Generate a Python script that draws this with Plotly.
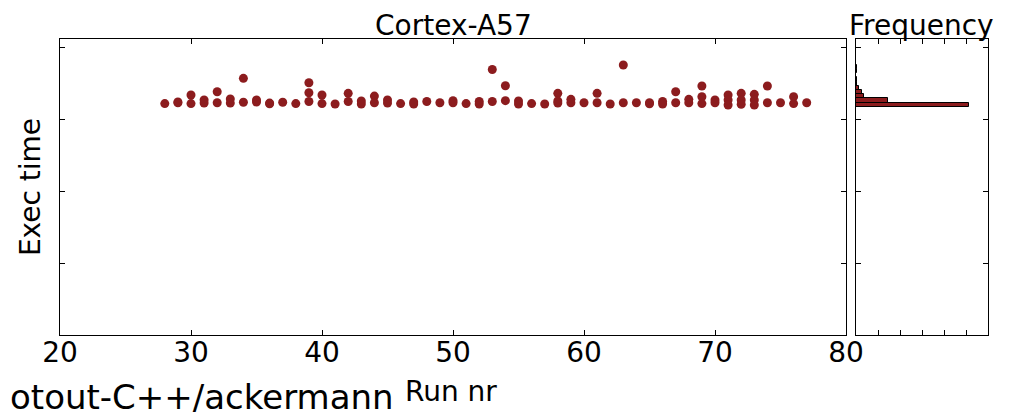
import plotly.graph_objects as go

# ---- data ----
run_nr = [
    28, 29, 29, 30, 30, 31, 31, 32, 32, 33, 33, 34, 34, 35, 35, 36, 36, 37, 38,
    39, 39, 39, 40, 40, 41, 42, 42, 43, 43, 44, 44, 45, 45, 46, 47, 47, 48, 49,
    50, 50, 51, 52, 52, 53, 53, 54, 54, 55, 55, 56, 57, 58, 58, 58, 59, 59, 60,
    61, 61, 62, 63, 63, 64, 65, 65, 66, 66, 67, 67, 68, 68, 69, 69, 69, 70, 70,
    71, 71, 71, 72, 72, 72, 73, 73, 73, 74, 74, 75, 76, 76, 77,
]
exec_time = [
    3.218, 3.240, 3.228, 3.336, 3.218, 3.267, 3.225, 3.382, 3.230, 3.281, 3.225,
    3.567, 3.236, 3.267, 3.240, 3.225, 3.215, 3.236, 3.218,
    3.506, 3.368, 3.247, 3.336, 3.218, 3.212, 3.360, 3.247, 3.253, 3.212,
    3.322, 3.230, 3.267, 3.225, 3.218, 3.240, 3.212, 3.247, 3.230,
    3.258, 3.230, 3.218, 3.247, 3.212, 3.689, 3.247, 3.465, 3.258, 3.253, 3.212,
    3.218, 3.212, 3.360, 3.253, 3.225, 3.277, 3.230, 3.230,
    3.360, 3.230, 3.212, 3.751, 3.230, 3.230, 3.230, 3.215, 3.247, 3.212,
    3.382, 3.230, 3.277, 3.230, 3.461, 3.313, 3.218, 3.267, 3.230,
    3.336, 3.267, 3.199, 3.360, 3.267, 3.208, 3.346, 3.267, 3.199,
    3.461, 3.230, 3.230, 3.313, 3.218, 3.230,
]

# histogram bins (exec time) and their frequencies
bin_centers = [3.2038, 3.2619, 3.3200, 3.3780, 3.4361,
               3.4942, 3.5522, 3.6103, 3.6684, 3.7264]
bin_width = 0.0581
bin_counts = [103, 29, 7, 5, 3, 1, 1, 0, 1, 1]

x_ticks = [20, 30, 40, 50, 60, 70, 80]
y_ticks = [1, 2, 3, 4]
freq_ticks = [20, 40, 60, 80, 100]

RED = "#8c1c1e"
FONT = "DejaVu Sans"

W, H = 1003, 412  # page body has an 8px margin

fig = go.Figure()
fig.add_trace(go.Scatter(
    x=run_nr, y=exec_time, mode="markers",
    marker=dict(color=RED, size=9, line=dict(width=0)),
    xaxis="x", yaxis="y", showlegend=False,
))
fig.add_trace(go.Bar(
    x=bin_counts, y=bin_centers, orientation="h", width=bin_width,
    marker=dict(color=RED, line=dict(color="black", width=1)),
    xaxis="x2", yaxis="y2", showlegend=False,
))

axis_common = dict(
    showline=True, linecolor="black", linewidth=1, mirror="allticks",
    ticks="inside", ticklen=5, tickcolor="black", tickwidth=1,
    showgrid=False, zeroline=False, automargin=False,
)

ydom = [(H - 327) / H, (H - 31) / H]

fig.update_layout(
    width=W, height=H,
    margin=dict(l=0, r=0, t=0, b=0, autoexpand=False),
    paper_bgcolor="white", plot_bgcolor="white",
    font=dict(family=FONT, size=28, color="black"),
    bargap=0,
    xaxis=dict(domain=[52 / W, 838 / W], range=[20, 80],
               tickvals=x_ticks, tickfont=dict(size=28),
               ticklabelstandoff=-8,
               **axis_common),
    yaxis=dict(domain=ydom, range=[0.018, 4.111],
               tickvals=y_ticks, showticklabels=False,
               title=dict(text="Exec time", font=dict(size=28), standoff=10),
               **axis_common),
    xaxis2=dict(domain=[848 / W, 980 / W], range=[0, 120],
                tickvals=freq_ticks, showticklabels=False,
                anchor="y2", **axis_common),
    yaxis2=dict(domain=ydom, range=[0.018, 4.111],
                tickvals=y_ticks, showticklabels=False,
                anchor="x2", matches="y", **axis_common),
    annotations=[
        dict(text="Cortex-A57", xref="paper", yref="paper",
             x=445 / W, y=1, xanchor="center", yanchor="top", borderpad=0,
             showarrow=False, font=dict(size=28)),
        dict(text="Frequency", xref="paper", yref="paper",
             x=913 / W, y=1, xanchor="center", yanchor="top", borderpad=0,
             showarrow=False, font=dict(size=28)),
        dict(text="Run nr", xref="paper", yref="paper",
             x=443 / W, y=(H - 383.5) / H, xanchor="center", yanchor="middle",
             borderpad=0, showarrow=False, font=dict(size=28)),
        dict(text="otout-C++/ackermann", xref="paper", yref="paper",
             x=0, y=(H - 389) / H, xanchor="left", yanchor="middle",
             showarrow=False, font=dict(size=34)),
    ],
)

fig.write_html("out.html")
